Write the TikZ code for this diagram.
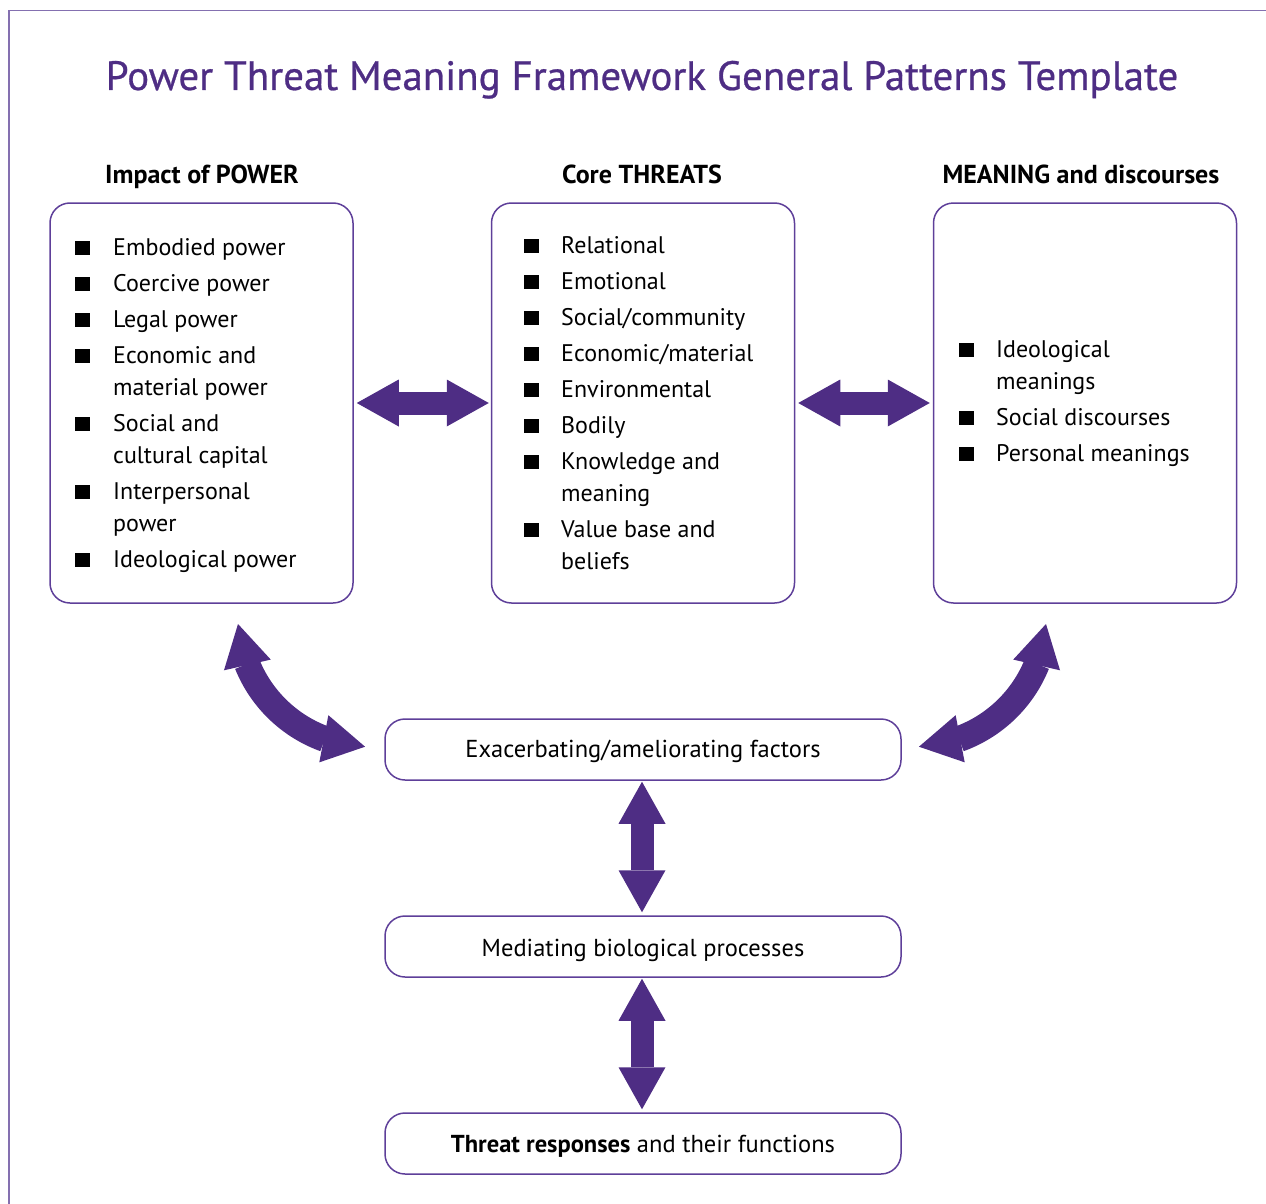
\documentclass[tikz,border=0pt]{standalone}
\usepackage{fontspec}
\setmainfont{PT Sans}
\newfontfamily\titlefont{PT Sans}[FakeBold=0.6]
\usetikzlibrary{arrows.meta,calc,bending}
\definecolor{ptpurple}{HTML}{4E2D84}
\definecolor{boxpurple}{HTML}{5E3F99}
\definecolor{framepurple}{HTML}{8470B0}
\begin{document}
\begin{tikzpicture}[x=1pt,y=-1pt,
  box/.style={draw=boxpurple, line width=1.5pt, rounded corners=20pt, inner sep=0pt},
  bigbox/.style={box, minimum width=303pt, minimum height=400pt},
  lowbox/.style={box, minimum width=516pt, minimum height=61pt},
  ptip/.tip={Triangle[length=42pt,width=47pt,line width=0pt]},
  ctip/.tip={Triangle[length=42pt,width=48pt,line width=0pt,flex]},
  bigarrow/.style={draw=ptpurple, fill=ptpurple, line width=23pt, ptip-ptip},
  curvearrow/.style={draw=ptpurple, fill=ptpurple, line width=26pt, ctip-ctip},
  item/.style={anchor=base west, inner sep=0pt, font=\fontsize{24}{28}\selectfont},
  ctext/.style={anchor=base, inner sep=0pt, font=\fontsize{24.5}{28}\selectfont},
  hdr/.style={anchor=base, inner sep=0pt, font=\fontsize{26}{30}\selectfont\bfseries},
  bul/.style={rectangle, fill=black, minimum width=15pt, minimum height=14pt, inner sep=0pt, anchor=south west},
]
\useasboundingbox (0,0) rectangle (1266,1204);
% frame
\draw[framepurple, line width=1.5pt] (9,1204) -- (9,10.5) -- (1266,10.5);
% title
\node[anchor=base, inner sep=0pt, text=ptpurple, font=\titlefont\fontsize{41}{48}\selectfont] (title) at (642,90) {Power Threat Meaning Framework General Patterns Template};
% headers
\node[hdr] (h1) at (202,183) {Impact of POWER};
\node[hdr] (h2) at (642,183) {Core THREATS};
\node[hdr] (h3) at (1081,183) {MEANING and discourses};
% big boxes
\node[bigbox] (power) at (201.5,403) {};
\node[bigbox] (threats) at (643,403) {};
\node[bigbox] (meaning) at (1085,403) {};
% lists
\foreach \t/\y/\b in {Embodied power/255/1, Coercive power/291/1, Legal power/327/1, Economic and/363/1, material power/395/0, Social and/431/1, cultural capital/463/0, Interpersonal/499/1, power/531/0, Ideological power/567/1}{
  \node[item] (pl\y) at (113,\y) {\t};
  \ifnum\b=1 \node[bul] (pb\y) at (75,\y) {}; \fi
}
\foreach \t/\y/\b in {Relational/253/1, Emotional/289/1, {Social/community}/325/1, {Economic/material}/361/1, Environmental/397/1, Bodily/433/1, Knowledge and/469/1, meaning/501/0, Value base and/537/1, beliefs/569/0}{
  \node[item] (tl\y) at (561,\y) {\t};
  \ifnum\b=1 \node[bul] (tb\y) at (524,\y) {}; \fi
}
\foreach \t/\y/\b in {Ideological/357/1, meanings/389/0, Social discourses/425/1, Personal meanings/461/1}{
  \node[item] (ml\y) at (996,\y) {\t};
  \ifnum\b=1 \node[bul] (mb\y) at (959,\y) {}; \fi
}
% lower boxes
\node[lowbox] (exa) at (643,749.5) {};
\node[ctext] (exat) at (643,757) {Exacerbating/ameliorating factors};
\node[lowbox] (med) at (643,946.5) {};
\node[ctext] (medt) at (643,956) {Mediating biological processes};
\node[lowbox] (thr) at (643,1143.5) {};
\node[ctext] (thrt) at (643,1152) {\textbf{Threat responses} and their functions};
% straight arrows
\draw[bigarrow, shorten <=3pt, shorten >=2pt] (power.east) -- (threats.west);
\draw[bigarrow, shorten <=3pt, shorten >=3pt] (threats.east) -- (meaning.west);
\draw[bigarrow, shorten <=1pt, shorten >=3pt] ([xshift=-1pt]exa.south) -- ([xshift=-1pt]med.north);
\draw[bigarrow, shorten <=1pt, shorten >=3pt] ([xshift=-1pt]med.south) -- ([xshift=-1pt]thr.north);
% curved arrows
\coordinate (lcA) at (238,624);
\coordinate (rcA) at (1046,624);
\draw[curvearrow] (lcA) arc[start angle=176, end angle=92, radius=132] coordinate (lcB);
\draw[curvearrow] (rcA) arc[start angle=4, end angle=88, radius=132] coordinate (rcB);
\end{tikzpicture}
\end{document}
